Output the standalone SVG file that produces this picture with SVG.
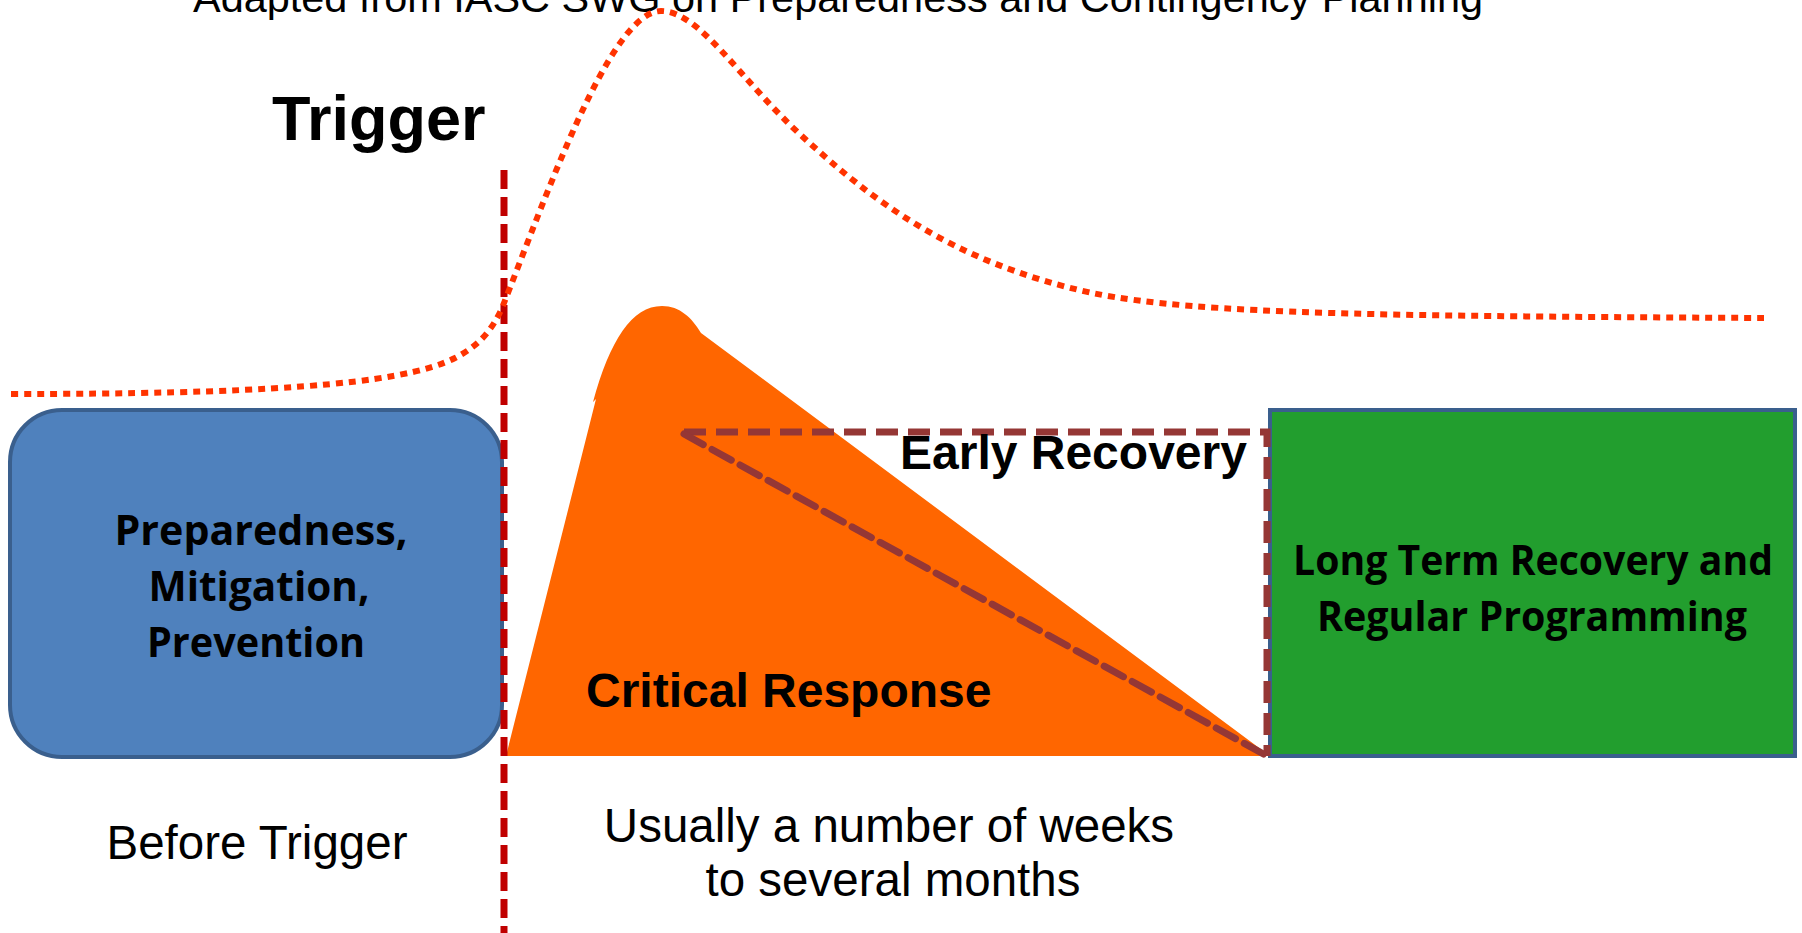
<svg xmlns="http://www.w3.org/2000/svg" width="1802" height="933" viewBox="0 0 1802 933">
<style>
.sans{font-family:"Liberation Sans",Arial,sans-serif;fill:#000}
.cal{font-family:"Open Sans","Noto Sans",sans-serif;font-weight:700;fill:#000;font-size:41px}
.brown{fill:none;stroke:#953735;stroke-width:7;stroke-dasharray:22 10}
</style>
<rect width="1802" height="933" fill="#fff"/>
<text class="sans" x="838" y="12" font-size="41" text-anchor="middle" textLength="1290" lengthAdjust="spacingAndGlyphs">Adapted from IASC SWG on Preparedness and Contingency Planning</text>
<g id="blue-box">
<rect x="10" y="410" width="492" height="347" rx="52" ry="52" fill="#4F81BD" stroke="#3A5F8D" stroke-width="4"/>
<text class="cal" x="261" y="545" text-anchor="middle" textLength="293" lengthAdjust="spacingAndGlyphs">Preparedness,</text>
<text class="cal" x="259" y="601" text-anchor="middle" textLength="221" lengthAdjust="spacingAndGlyphs">Mitigation,</text>
<text class="cal" x="256" y="657" text-anchor="middle" textLength="218" lengthAdjust="spacingAndGlyphs">Prevention</text>
</g>
<g id="green-box">
<rect x="1270" y="410" width="525" height="346" fill="#229E2E" stroke="#3A5F8D" stroke-width="4"/>
<text class="cal" x="1533" y="575" text-anchor="middle" textLength="480" lengthAdjust="spacingAndGlyphs">Long Term Recovery and</text>
<text class="cal" x="1532" y="631" text-anchor="middle" textLength="430" lengthAdjust="spacingAndGlyphs">Regular Programming</text>
</g>
<g id="critical-response">
<path d="M506 756 L596 399 L593 402 C610 340 632 306 662 306 C680 306 692 318 701 333 L1270 756 Z" fill="#FF6600"/>
<text class="sans" x="586" y="707" font-size="48" font-weight="700">Critical Response</text>
</g>
<g id="connectors">
<path class="brown" d="M684 432 L1267 432 L1267 756"/>
<path class="brown" d="M684 434 L1267 756" stroke-linecap="round"/>
<line x1="504" y1="170" x2="504" y2="933" stroke="#C00000" stroke-width="7" stroke-dasharray="19 8"/>
<path d="M11 394 C250 394 400 386 455 358 C480 345 492 330 502 308 C545 200 610 11 661 11 C700 11 740 80 804 138 C870 198 950 262 1092 293 C1200 315 1400 316 1764 318" fill="none" stroke="#FF3300" stroke-width="6" stroke-dasharray="7 6"/>
</g>
<g id="early-recovery">
<text class="sans" x="900" y="469" font-size="48" font-weight="700">Early Recovery</text>
</g>
<g id="trigger">
<text class="sans" x="272" y="140" font-size="63" font-weight="700">Trigger</text>
</g>
<g id="labels">
<text class="sans" x="257" y="859" font-size="47.5" text-anchor="middle">Before Trigger</text>
<text class="sans" x="889" y="842" font-size="47.5" text-anchor="middle">Usually a number of weeks</text>
<text class="sans" x="893" y="896" font-size="47.5" text-anchor="middle">to several months</text>
</g>
</svg>
